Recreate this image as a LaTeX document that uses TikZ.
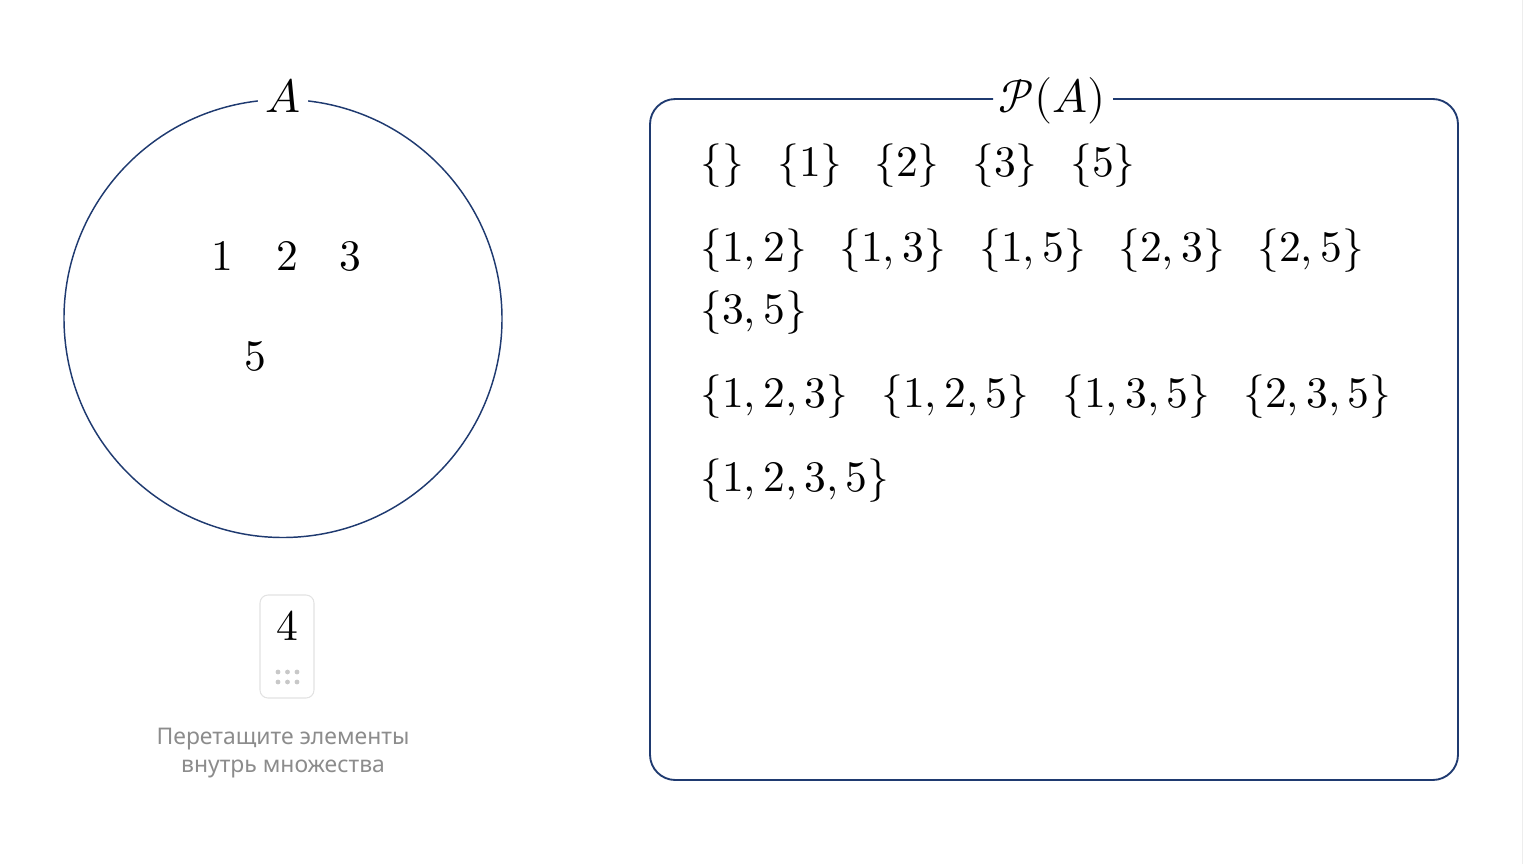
\documentclass[tikz,border=0pt]{standalone}
\usepackage{fontspec}
\usepackage{unicode-math}
\setmathfont{Latin Modern Math}
\newfontfamily\uisans{Noto Sans}
\definecolor{navy}{HTML}{1F3A70}
\definecolor{hintgrey}{HTML}{8C8C8C}
\definecolor{cardgrey}{HTML}{E2E2E2}
\definecolor{dotgrey}{HTML}{C8C8C8}
\definecolor{edgegrey}{HTML}{EDEDED}
\begin{document}
\begin{tikzpicture}[x=0.75pt,y=0.75pt,
  setnode/.style={anchor=base west,inner sep=0pt,font=\fontsize{32.7}{38}\selectfont},
  elem/.style={anchor=base,inner sep=0pt,font=\fontsize{32.7}{38}\selectfont},
  biglabel/.style={anchor=base,inner sep=0pt,font=\fontsize{35}{42}\selectfont},
  frame/.style={draw=navy,line width=1.4pt},
  hint/.style={align=center,text=hintgrey,font=\uisans\fontsize{17.2}{21}\selectfont,inner sep=0pt}]
\useasboundingbox (0,0) rectangle (1524,-864);
\draw[edgegrey,line width=1pt] (1522.5,0) -- (1522.5,-864);
% circle A with gap for label
\coordinate (c) at (283,-318.5);
\draw[frame,line width=1.1pt] ([shift={(96.6:219)}]c) arc[start angle=96.6,end angle=443.4,radius=219];
\node[biglabel] (lA) at (283,-112) {$A$};
\node[elem] (e1) at (222,-270) {$1$};
\node[elem] (e2) at (287,-270) {$2$};
\node[elem] (e3) at (350,-270) {$3$};
\node[elem] (e5) at (255,-370) {$5$};
% draggable card
\draw[cardgrey,line width=0.8pt,rounded corners=6pt] (260,-595) rectangle (314,-698);
\node[elem] (e4) at (287,-640) {$4$};
\foreach \dx/\dy [count=\i] in {278/672,287.5/672,297/672,278/682,287.5/682,297/682}
  \fill[dotgrey] (\dx,-\dy) circle (2.4);
\node[hint] (hintText) at (283,-753) {Перетащите элементы\\внутрь множества};
% power set frame
\draw[frame,rounded corners=19pt] (1113,-99) -- (1458,-99) -- (1458,-780) -- (650,-780) -- (650,-99) -- (993,-99);
\node[biglabel] (lP) at (1052,-112) {$\mathcal{P}(A)$};
% row 1
\node[setnode] (s0) at (700,-176) {$\{\}$};
\node[setnode] (s1) at (777,-176) {$\{1\}$};
\node[setnode] (s2) at (874,-176) {$\{2\}$};
\node[setnode] (s3) at (972,-176) {$\{3\}$};
\node[setnode] (s5) at (1070,-176) {$\{5\}$};
% row 2
\node[setnode] (s12) at (700,-261) {$\{1,2\}$};
\node[setnode] (s13) at (839,-261) {$\{1,3\}$};
\node[setnode] (s15) at (979,-261) {$\{1,5\}$};
\node[setnode] (s23) at (1118,-261) {$\{2,3\}$};
\node[setnode] (s25) at (1257,-261) {$\{2,5\}$};
\node[setnode] (s35) at (700,-323) {$\{3,5\}$};
% row 3
\node[setnode] (s123) at (700,-407) {$\{1,2,3\}$};
\node[setnode] (s125) at (881,-407) {$\{1,2,5\}$};
\node[setnode] (s135) at (1062,-407) {$\{1,3,5\}$};
\node[setnode] (s235) at (1243,-407) {$\{2,3,5\}$};
% row 4
\node[setnode] (s1235) at (700,-491) {$\{1,2,3,5\}$};
\end{tikzpicture}
\end{document}
